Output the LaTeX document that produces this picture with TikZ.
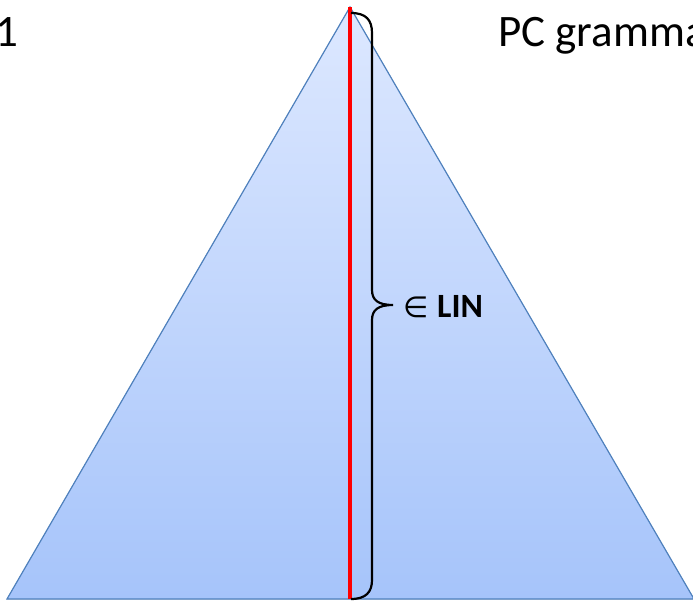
\documentclass[tikz,border=0pt]{standalone}
\usepackage{fontspec}
\setmainfont{Carlito}
\newfontfamily\djv{DejaVu Sans}
\definecolor{triTop}{RGB}{221,232,255}
\definecolor{triBot}{RGB}{166,196,250}
\definecolor{triLine}{RGB}{79,129,189}
\definecolor{redLine}{RGB}{255,0,0}
\begin{document}
\begin{tikzpicture}[x=1pt,y=-1pt,
  tri/.style={top color=triTop,bottom color=triBot,draw=triLine,line width=1.2pt},
  bigtext/.style={font=\fontsize{45}{54}\selectfont,inner sep=0pt},
  lbltext/.style={font=\fontsize{34}{40}\selectfont,inner sep=0pt}]
\useasboundingbox (0,0) rectangle (693,601);
\coordinate (apex) at (350,7);
\coordinate (bl) at (7,599);
\coordinate (br) at (694,599);
\coordinate (foot) at (350,599);
\fill[tri] (apex) -- (br) -- (bl) -- cycle;
\draw[redLine,line width=3.8pt] (apex) -- (foot);
\draw[black,line width=2.2pt] (351,13) .. controls (366,13) and (372,20) .. (372,33)
  -- (372,290) .. controls (372,300) and (378,305) .. (393,305)
  .. controls (378,305) and (372,310) .. (372,320)
  -- (372,580) .. controls (372,592) and (366,599) .. (351,599);
\node[bigtext,anchor=base east] (one) at (19,47) {1};
\node[bigtext,anchor=base west] (pc) at (498,47) {PC gramma};
\node[lbltext,anchor=base west] (inop) at (403,318) {\djv\fontsize{29}{34}\selectfont ∈};
\node[lbltext,anchor=base west] (lin) at (437,318) {\bfseries LIN};
\end{tikzpicture}
\end{document}
